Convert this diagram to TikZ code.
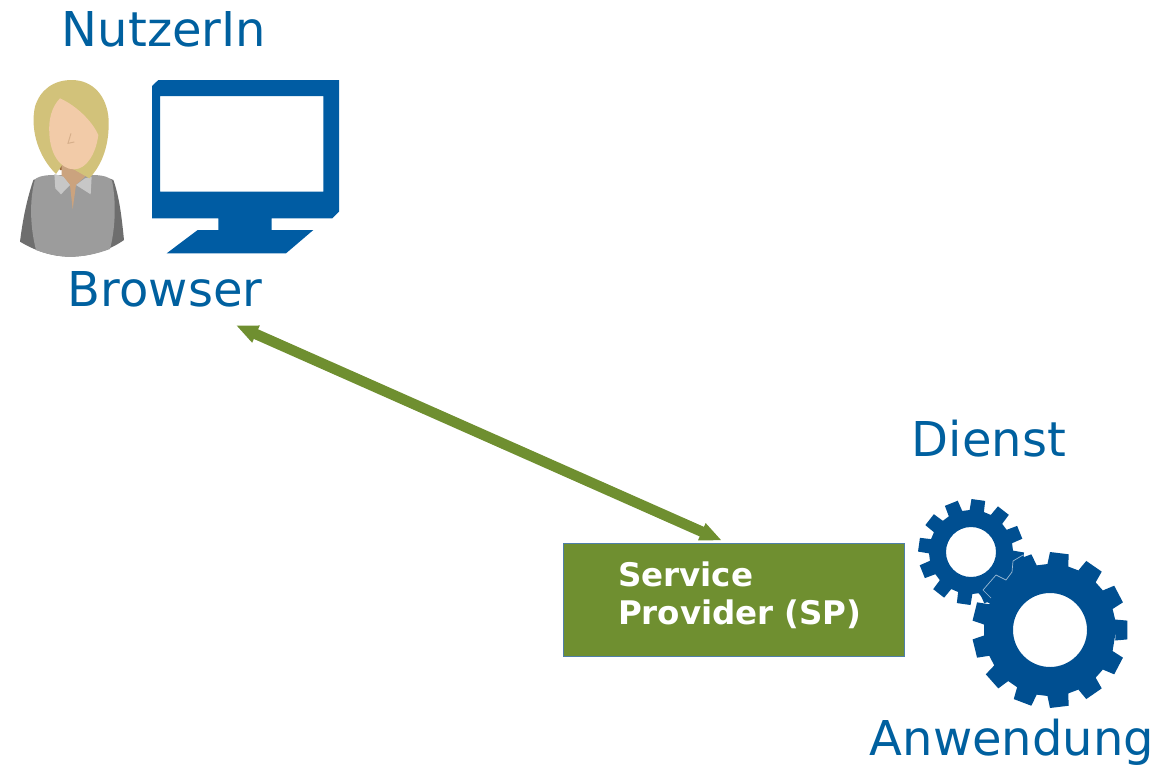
\documentclass[tikz,border=0pt]{standalone}
\usepackage{fontspec}
\setmainfont{DejaVu Sans}
\usepackage{xcolor}
\usetikzlibrary{calc}
\usetikzlibrary{arrows.meta}
\definecolor{labelblue}{HTML}{00609F}
\definecolor{screenblue}{HTML}{005CA3}
\definecolor{gearblue}{HTML}{004F91}
\definecolor{spgreen}{HTML}{6F8F30}
\definecolor{spborder}{HTML}{4F7FA8}
\definecolor{hair}{HTML}{D2C27A}
\definecolor{skin}{HTML}{F2CBA8}
\definecolor{neck}{HTML}{CBA37E}
\definecolor{hairdark}{HTML}{9A6A3C}
\tikzset{
  biglabel/.style={anchor=base, inner sep=0pt, text height=35pt, text depth=19pt,
    text=labelblue, font=\fontsize{48}{56}\selectfont},
  spbox/.style={draw=spborder, line width=0.8pt, fill=spgreen, text=white,
    minimum width=341pt, minimum height=113pt, text width=231pt, inner xsep=55pt, inner ysep=0pt,
    text depth=50pt, align=left, font=\fontsize{32.5}{38}\selectfont\bfseries},
  linkarrow/.style={{Triangle[length=22pt,width=17pt]}-{Triangle[length=22pt,width=17pt]},
    line width=10.5pt, spgreen}
}
% center x, center y, outer radius, root radius, hole radius, teeth, rotation
\newcommand{\gearshape}[7]{
  \fill[gearblue, even odd rule]
    ($(#1,#2)+(#7:#4)$)
    \foreach \n [evaluate=\n as \a using #7+\n*360/#6,
                 evaluate=\n as \w using 360/#6] in {1,...,#6} {
      -- ($(#1,#2)+(\a-0.33*\w:#4)$) -- ($(#1,#2)+(\a-0.25*\w:#3)$)
      -- ($(#1,#2)+(\a+0.25*\w:#3)$) -- ($(#1,#2)+(\a+0.33*\w:#4)$)
    } -- cycle
    (#1,#2) circle (#5);
}
\begin{document}
\begin{tikzpicture}[x=1pt, y=-1pt]
  \useasboundingbox (0,0) rectangle (1166,766);

  % labels
  \node[biglabel] (nutzerin) at (164,46) {NutzerIn};
  \node[biglabel] (browser) at (165,306) {Browser};
  \node[biglabel] (dienst) at (989,456) {Dienst};
  \node[biglabel] (anwendung) at (1012,755) {Anwendung};

  % person
  \begin{scope}[shift={(0,70)}, scale=1/3]
    \fill[black!57]
      (100,330) .. controls (80,390) and (68,450) .. (60,515)
      .. controls (110,545) and (160,560) .. (210,560)
      .. controls (270,560) and (330,540) .. (372,510)
      .. controls (365,440) and (358,380) .. (340,330)
      .. controls (300,310) and (140,310) .. (100,330) -- cycle;
    \fill[black!39]
      (105,328) .. controls (120,315) and (150,315) .. (170,315)
      -- (275,315) .. controls (300,315) and (325,318) .. (336,332)
      .. controls (350,400) and (345,480) .. (330,537)
      .. controls (290,552) and (250,560) .. (210,560)
      .. controls (175,560) and (140,552) .. (108,540)
      .. controls (90,470) and (88,390) .. (105,328) -- cycle;
    \fill[hairdark] (160,260) -- (295,230) -- (275,300) -- (180,300) -- cycle;
    \fill[neck] (185,270) -- (255,270) -- (255,320) -- (228,345) -- (218,418) -- (210,345) -- (185,320) -- cycle;
    \fill[black!22] (163,312) -- (190,320) -- (210,345) -- (183,373) -- (166,355) -- cycle;
    \fill[black!22] (255,325) -- (275,320) -- (272,373) -- (228,345) -- cycle;
    \fill[hair]
      (215,30) .. controls (160,30) and (120,60) .. (105,110)
      .. controls (90,180) and (115,260) .. (168,312)
      -- (190,280) -- (268,325)
      .. controls (310,280) and (328,220) .. (326,150)
      .. controls (322,80) and (280,30) .. (215,30) -- cycle;
    \fill[skin]
      (180,85) .. controls (155,110) and (145,150) .. (148,190)
      .. controls (150,250) and (180,298) .. (222,298)
      .. controls (260,298) and (288,250) .. (295,195)
      .. controls (275,150) and (225,105) .. (180,85) -- cycle;
    \draw[neck!70!skin, line width=1pt] (213,190) -- (204,220) -- (223,216);
  \end{scope}

  % monitor
  \begin{scope}[shift={(0,70)}, scale=1/3]
    \fill[screenblue, even odd rule]
      (475,30) -- (1017,30) -- (1017,425) -- (997,445) -- (815,445) -- (815,480)
      -- (940,480) -- (858,550) -- (500,550) -- (593,480) -- (655,480) -- (655,445)
      -- (456,445) -- (456,48) -- cycle
      (480,78) rectangle (970,365);
  \end{scope}

  % service provider and link
  \node[spbox] (sp) at (733.5,599.5) {Service\\Provider~(SP)};
  \draw[linkarrow, shorten >=5pt] (browser.-21.7) -- (sp.97.6);

  % gears
  \gearshape{971}{552}{53}{42}{25}{12}{8}
  \gearshape{1050}{630}{78}{66}{37}{13}{0}
  \fill[gearblue] (1022,554) -- (1030,566) -- (995,606) -- (985,601) -- (976,590) -- (990,570) -- cycle;
  \draw[white!60!gearblue, line width=0.7pt]
    (1023,555) -- (1013,561) -- (1012,572) -- (1006,580) -- (996,575) -- (983,590) -- (991,598);
\end{tikzpicture}
\end{document}
